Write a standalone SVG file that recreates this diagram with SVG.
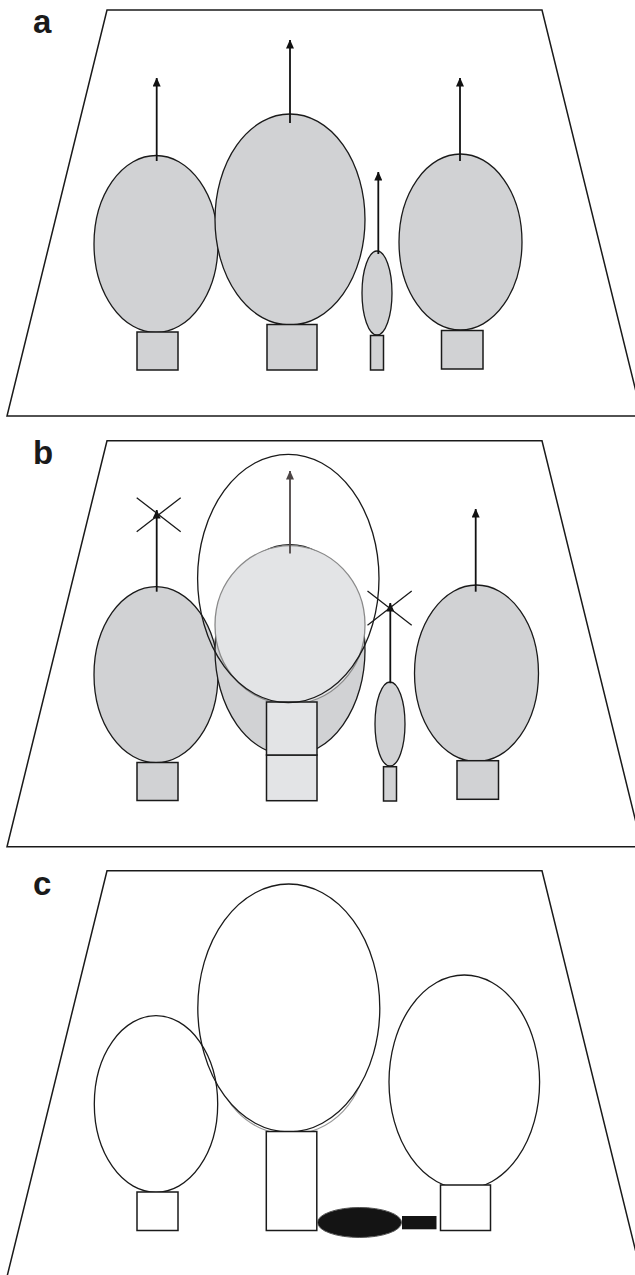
<svg xmlns="http://www.w3.org/2000/svg" width="635" height="1275" viewBox="0 0 635 1275">
  <defs>
    <style>
      .plot { fill: none; stroke: #1a1a1a; stroke-width: 1.5; }
      .crown { fill: #d1d2d4; stroke: #1a1a1a; stroke-width: 1.3; }
      .trunk { fill: #d1d2d4; stroke: #1a1a1a; stroke-width: 1.5; }
      .crown-new { fill: #e3e4e6; stroke: #8a8a8a; stroke-width: 1.3; }
      .trunk-new { fill: #e3e4e6; stroke: #1a1a1a; stroke-width: 1.5; }
      .outline { fill: none; stroke: #1a1a1a; stroke-width: 1.3; }
      .cover { fill: #ffffff; stroke: #1a1a1a; stroke-width: 1.3; }
      .ghost { fill: none; stroke: #9a9a9a; stroke-width: 1.2; }
      .box { fill: #ffffff; stroke: #1a1a1a; stroke-width: 1.5; }
      .dead { fill: #141414; stroke: #555555; stroke-width: 1; }
      .shoot { stroke: #111111; stroke-width: 1.8; fill: none; }
      .shoot-grey { stroke: #4d4646; stroke-width: 1.8; fill: none; }
      .cross { stroke: #1a1a1a; stroke-width: 1.3; fill: none; }
      .label { font-family: "Liberation Sans", Arial, sans-serif; font-weight: bold; font-size: 33px; fill: #1a1a1a; }
    </style>
    <!-- arrowheads point along +x so orient="auto" follows the shaft -->
    <marker id="head" markerUnits="userSpaceOnUse" viewBox="0 0 9 8" markerWidth="9" markerHeight="8" refX="8.5" refY="4" orient="auto">
      <path d="M0,0 L9,4 L0,8 Z" fill="#111111"/>
    </marker>
    <marker id="head-grey" markerUnits="userSpaceOnUse" viewBox="0 0 9 8" markerWidth="9" markerHeight="8" refX="8.5" refY="4" orient="auto">
      <path d="M0,0 L9,4 L0,8 Z" fill="#4d4646"/>
    </marker>
  </defs>

  <rect width="635" height="1275" fill="#ffffff"/>

  <!-- ===== Panel a ===== -->
  <g id="panel-a">
    <text class="label" x="33" y="33">a</text>
    <polygon class="plot" points="107,10 542,10 642,416 7,416"/>
    <g id="a-tree1">
      <ellipse class="crown" cx="156" cy="244" rx="62" ry="88.5"/>
      <rect class="trunk" x="137" y="332" width="41" height="38"/>
    </g>
    <g id="a-tree2">
      <ellipse class="crown" cx="290" cy="219.5" rx="75" ry="105.5"/>
      <rect class="trunk" x="267" y="324.5" width="50" height="45.5"/>
    </g>
    <g id="a-tree3">
      <ellipse class="crown" cx="377" cy="293" rx="15" ry="42"/>
      <rect class="trunk" x="370.5" y="335.5" width="13" height="34.5"/>
    </g>
    <g id="a-tree4">
      <ellipse class="crown" cx="460.5" cy="242" rx="61.5" ry="88"/>
      <rect class="trunk" x="441.5" y="330.5" width="41.5" height="38.5"/>
    </g>
  </g>

  <!-- ===== Panel b ===== -->
  <g id="panel-b">
    <text class="label" x="33" y="464">b</text>
    <polygon class="plot" points="107,440.7 542,440.7 642,846.7 7,846.7"/>
    <g id="b-tree1">
      <ellipse class="crown" cx="156" cy="674.7" rx="62" ry="88"/>
      <rect class="trunk" x="137" y="762.5" width="41" height="38"/>
    </g>
    <g id="b-tree2">
      <ellipse class="crown" cx="290" cy="650.2" rx="75" ry="105.5"/>
      <ellipse class="crown-new" cx="290" cy="625" rx="75" ry="79.3"/>
      <rect class="trunk-new" x="266.5" y="755" width="50.5" height="45.7"/>
      <rect class="trunk-new" x="266.5" y="702" width="50.5" height="53"/>
      <ellipse class="outline" cx="288.3" cy="578.5" rx="90.7" ry="124.2"/>
    </g>
    <g id="b-tree3">
      <ellipse class="crown" cx="390" cy="724" rx="15" ry="42"/>
      <rect class="trunk" x="383.5" y="766.7" width="13" height="34.3"/>
    </g>
    <g id="b-tree4">
      <ellipse class="crown" cx="476.5" cy="673.3" rx="62" ry="88.3"/>
      <rect class="trunk" x="457" y="760.7" width="41.5" height="38.6"/>
    </g>
  </g>

  <!-- ===== Panel c ===== -->
  <g id="panel-c">
    <text class="label" x="33" y="895">c</text>
    <polygon class="plot" points="107,870.7 542,870.7 642,1276.7 7,1276.7"/>
    <g id="c-tree2">
      <ellipse class="ghost" cx="290" cy="1055.3" rx="75" ry="79.3"/>
      <ellipse class="cover" cx="288.8" cy="1008" rx="91" ry="124"/>
      <rect class="box" x="266.3" y="1131.5" width="50.5" height="99"/>
    </g>
    <g id="c-tree1">
      <ellipse class="outline" cx="156" cy="1104" rx="61.7" ry="88.3"/>
      <rect class="box" x="137" y="1192" width="41" height="38.5"/>
    </g>
    <g id="c-tree3">
      <ellipse class="dead" cx="359.5" cy="1222.5" rx="42" ry="15"/>
      <rect x="402" y="1216" width="34.5" height="13.3" fill="#141414"/>
    </g>
    <g id="c-tree4">
      <ellipse class="outline" cx="464.3" cy="1082" rx="75.3" ry="107"/>
      <rect class="box" x="440.5" y="1185" width="50" height="45.5"/>
    </g>
  </g>

  <!-- ===== Growth arrows and blocked markers ===== -->
  <g id="connectors">
    <line class="shoot" x1="156.7" y1="161" x2="156.7" y2="78" marker-end="url(#head)"/>
    <line class="shoot" x1="290" y1="123" x2="290" y2="40" marker-end="url(#head)"/>
    <line class="shoot" x1="378.3" y1="254" x2="378.3" y2="172" marker-end="url(#head)"/>
    <line class="shoot" x1="460" y1="161" x2="460" y2="78" marker-end="url(#head)"/>

    <line class="shoot" x1="156.7" y1="591.7" x2="156.7" y2="510" marker-end="url(#head)"/>
    <line class="shoot-grey" x1="290" y1="553.4" x2="290" y2="471" marker-end="url(#head-grey)"/>
    <line class="shoot" x1="390.3" y1="683.3" x2="390.3" y2="603" marker-end="url(#head)"/>
    <line class="shoot" x1="475.7" y1="591.7" x2="475.7" y2="509" marker-end="url(#head)"/>

    <path class="cross" d="M136.7,497.7 L180.7,531.7 M136.7,531.7 L180.7,497.7"/>
    <path class="cross" d="M367.5,591 L411.7,625.3 M367.5,625.3 L411.7,591"/>
  </g>
</svg>
